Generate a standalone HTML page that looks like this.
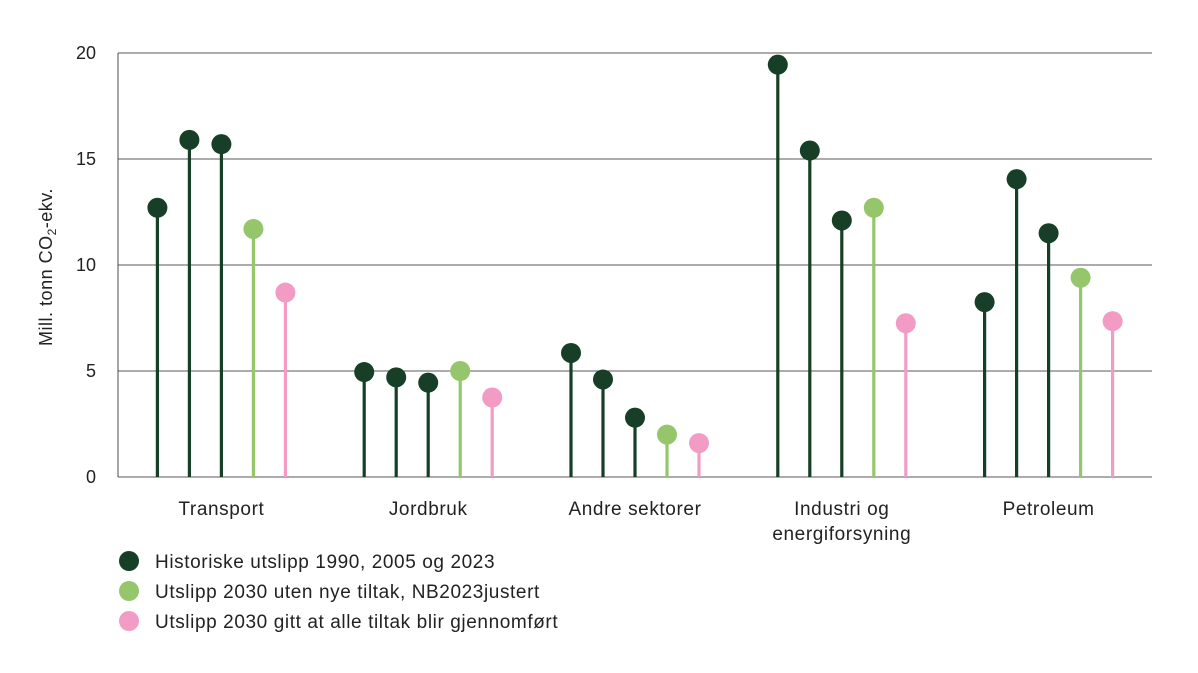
<!DOCTYPE html>
<html><head><meta charset="utf-8"><style>
body{margin:0;background:#fff;}
svg{display:block;font-family:"Liberation Sans",sans-serif;}
</style></head><body>
<svg id="chart" width="1198" height="673"></svg>
<script>
const categories=["Transport","Jordbruk","Andre sektorer","Industri og|energiforsyning","Petroleum"];
const hist1990=[12.7,4.95,5.85,19.45,8.25];
const hist2005=[15.9,4.7,4.6,15.4,14.05];
const hist2023=[15.7,4.45,2.8,12.1,11.5];
const utenTiltak=[11.7,5.0,2.0,12.7,9.4];
const alleTiltak=[8.7,3.75,1.6,7.25,7.35];
const yTicks=[0,5,10,15,20];
const legendLabels=["Historiske utslipp 1990, 2005 og 2023","Utslipp 2030 uten nye tiltak, NB2023justert","Utslipp 2030 gitt at alle tiltak blir gjennomført"];
const DG="#173f27",LG="#96c66c",PK="#f29cc5";
const svg=document.getElementById('chart');
const NS="http://www.w3.org/2000/svg";
const x0=118,x1=1152,yTop=53,yBot=477;
const y=v=>yBot-(v/20)*(yBot-yTop);
const bw=(x1-x0)/categories.length;
const xc=i=>x0+bw*(i+0.5);
function mk(t,a,p){const e=document.createElementNS(NS,t);for(const k in a)e.setAttribute(k,a[k]);(p||svg).appendChild(e);return e;}
yTicks.forEach(t=>{
 const l=mk('line',{x1:x0,x2:x1,y1:y(t),y2:y(t),stroke:'#222','stroke-width':0.8});
 
 
 const tx=mk('text',{x:96,y:y(t)+6,'text-anchor':'end','font-size':18,fill:'#222'});tx.textContent=t;
 
 
});
mk('line',{x1:x0,x2:x0,y1:yTop,y2:yBot,stroke:'#222','stroke-width':0.8});
const yl=mk('text',{transform:'translate(52,267) rotate(-90)','text-anchor':'middle','font-size':18,'letter-spacing':0.5,fill:'#222'});
yl.innerHTML='Mill. tonn CO<tspan font-size="12" dy="4">2</tspan><tspan dy="-4">-ekv.</tspan>';


const series=[[hist1990,DG],[hist2005,DG],[hist2023,DG],[utenTiltak,LG],[alleTiltak,PK]];
categories.forEach((c,i)=>{
 series.forEach((s,j)=>{
  const cx=xc(i)+(j-2)*32, v=s[0][i];
  const ln=mk('line',{x1:cx,x2:cx,y1:yBot,y2:y(v),stroke:s[1],'stroke-width':3.2});
  
  
  const d=mk('circle',{cx:cx,cy:y(v),r:10,fill:s[1]});
  
  
 });
 c.split('|').forEach((ln,k)=>{
  const t=mk('text',{x:xc(i),y:515+k*25,'text-anchor':'middle','font-size':19,'letter-spacing':0.6,fill:'#222'});t.textContent=ln;
  
  
 });
});
const lc=[DG,LG,PK];
legendLabels.forEach((l,k)=>{
 const cy=561+k*30;
 const c=mk('circle',{cx:129,cy:cy,r:10,fill:lc[k]});
 
 
 const t=mk('text',{x:155,y:cy+7,'font-size':19,'letter-spacing':0.6,fill:'#222'});t.textContent=l;
 
 
});
</script>
</body></html>
